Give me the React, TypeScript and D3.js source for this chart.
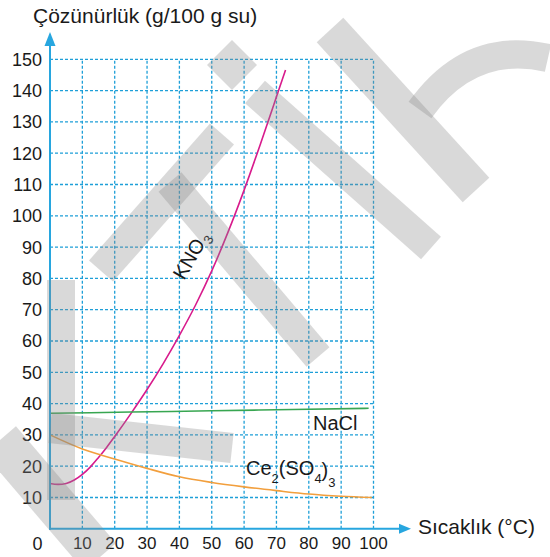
import React from "react";
import * as d3 from "d3";

// Solubility curves (g / 100 g water)
const kno3Temp = [0, 2.5, 5, 7.5, 10, 12.5, 15, 17.5, 20, 25, 30, 35, 40, 45, 50, 55, 60, 65, 70, 72.8];
const kno3Val = [14.5, 14.2, 14.5, 15.6, 17.4, 19.8, 22.8, 26, 29.5, 36.8, 44.5, 52.8, 61.8, 71.5, 82.4, 94.7, 108.2, 122.8, 138, 146.6];

const naclTemp = [0, 25, 50, 75, 98.5];
const naclVal = [36.9, 37.3, 37.7, 38.1, 38.5];

const ceTemp = [0, 10, 20, 30, 40, 50, 60, 70, 80, 90, 99.5];
const ceVal = [30, 25.5, 22.3, 19.3, 16.6, 14.8, 13.4, 12.2, 11.1, 10.4, 10];

const xTicks = [10, 20, 30, 40, 50, 60, 70, 80, 90, 100];
const yTicks = [10, 20, 30, 40, 50, 60, 70, 80, 90, 100, 110, 120, 130, 140, 150];

// background watermark strokes (decoration only)
const watermark = [
  { x1: 61, y1: 280, x2: 61, y2: 500, w: 28 },
  { x1: 0, y1: 440, x2: 100, y2: 557, w: 42 },
  { x1: 50, y1: 428, x2: 232, y2: 448, w: 30 },
  { x1: 101, y1: 271, x2: 222, y2: 134, w: 32 },
  { x1: 170, y1: 182, x2: 318, y2: 357, w: 30 },
  { x1: 255, y1: 92, x2: 431, y2: 248, w: 30 },
  { x1: 330, y1: 30, x2: 476, y2: 190, w: 36 },
];

const FONT = "'Liberation Sans', Arial, Helvetica, sans-serif";
const AXIS = "#27a6df";
const GRID = "#1e9fd8";

type Pt = [number, number];
const zip = (a: number[], b: number[]): Pt[] => a.map((t, i) => [t, b[i]]);

export default function App() {
  const width = 550;
  const height = 557;

  const x = d3.scaleLinear().domain([0, 100]).range([50, 373.5]);
  const y = d3.scaleLinear().domain([0, 150]).range([528.8, 59.3]);

  const line = d3
    .line<Pt>()
    .x((d) => x(d[0]))
    .y((d) => y(d[1]))
    .curve(d3.curveMonotoneX);

  const series = [
    { pts: zip(kno3Temp, kno3Val), color: "#d81b8c" },
    { pts: zip(naclTemp, naclVal), color: "#38a651" },
    { pts: zip(ceTemp, ceVal), color: "#f29f3d" },
  ];

  const x0 = x(0);
  const yBase = y(0);

  return (
    <svg
      width={width}
      height={height}
      style={{ position: "absolute", left: 0, top: 0, background: "#fff" }}
      fontFamily={FONT}
    >
      {/* grid */}
      <g stroke={GRID} strokeWidth={1.3} strokeDasharray="3,2" fill="none">
        {yTicks.map((v) => (
          <line key={"h" + v} x1={x0} x2={x(100)} y1={y(v)} y2={y(v)} />
        ))}
        {xTicks.map((v) => (
          <line key={"v" + v} x1={x(v)} x2={x(v)} y1={yBase} y2={y(150)} />
        ))}
      </g>

      {/* curves */}
      {series.map((s, i) => (
        <path key={i} d={line(s.pts) || ""} fill="none" stroke={s.color} strokeWidth={1.6} />
      ))}

      {/* axes */}
      <line x1={x0} x2={x0} y1={yBase + 1} y2={42} stroke={AXIS} strokeWidth={2} />
      <path d={`M${x0 - 5.5},46 L${x0 + 5.5},46 L${x0},32 Z`} fill={AXIS} />
      <line x1={x0 - 1} x2={402} y1={yBase} y2={yBase} stroke={AXIS} strokeWidth={2} />
      <path d={`M399,${yBase - 5} L399,${yBase + 5} L411,${yBase} Z`} fill={AXIS} />

      {/* tick labels */}
      <g fontSize={18} fill="#1a1a1a" textAnchor="end">
        {yTicks.map((v) => (
          <text key={v} x={42} y={y(v)} dy="0.36em">
            {v}
          </text>
        ))}
      </g>
      <g fontSize={17} fill="#1a1a1a" textAnchor="middle">
        {xTicks.map((v) => (
          <text key={v} x={x(v)} y={543} dy="0.36em">
            {v}
          </text>
        ))}
        <text x={37.5} y={544} dy="0.36em" fontSize={18}>
          0
        </text>
      </g>

      {/* titles */}
      <text x={33} y={23} fontSize={21} fill="#1a1a1a">
        Çözünürlük (g/100 g su)
      </text>
      <text x={418} y={534} fontSize={21} fill="#1a1a1a">
        Sıcaklık (°C)
      </text>

      {/* curve labels */}
      <text x={313} y={430} fontSize={20} fill="#1a1a1a">
        NaCl
      </text>
      <text x={246} y={475} fontSize={20} fill="#1a1a1a">
        Ce
        <tspan fontSize={13} dy={8}>2</tspan>
        <tspan dy={-8}>(SO</tspan>
        <tspan fontSize={13} dy={8}>4</tspan>
        <tspan dy={-6}>)</tspan>
        <tspan fontSize={13} dy={10}>3</tspan>
      </text>
      <text transform="translate(184,281) rotate(-60)" fontSize={20} fill="#1a1a1a">
        KNO
        <tspan fontSize={13} dy={5} dx={1}>3</tspan>
      </text>

      {/* watermark */}
      <g stroke="#888" strokeOpacity={0.32} fill="none">
        {watermark.map((b, i) => (
          <line key={i} x1={b.x1} y1={b.y1} x2={b.x2} y2={b.y2} strokeWidth={b.w} />
        ))}
        <path d="M420,110 Q470,40 548,58" strokeWidth={28} />
        <path d="M207,65 L232,40 L257,65 L232,90 Z" fill="#888" fillOpacity={0.32} stroke="none" />
      </g>
    </svg>
  );
}
